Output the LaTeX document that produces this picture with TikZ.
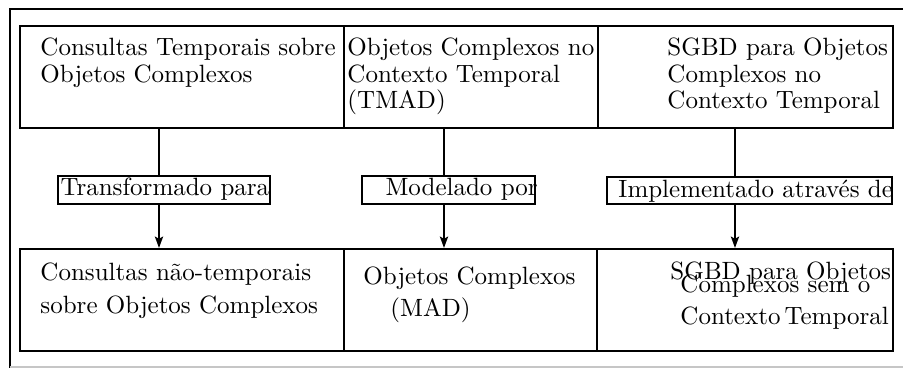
\documentclass[tikz,border=0pt]{standalone}
\usetikzlibrary{arrows.meta,fit}
\begin{document}
\begin{tikzpicture}[x=0.4pt,y=-0.4pt,
  box/.style={draw, line width=0.8pt, rectangle, inner sep=0pt},
  txt/.style={anchor=base west, inner sep=0pt, font=\normalsize},
  conn/.style={draw, line width=1pt},
  arr/.style={conn, -{Stealth[length=4.5pt,width=3.2pt,inset=0.8pt]}},
  frameline/.style={draw, line width=0.9pt}]
\useasboundingbox (0,0) rectangle (903,368);
\fill[white] (0,0) rectangle (903,368);
% outer frame
\draw[frameline] (903,9) -- (10,9) -- (10,368);
\draw[gray!45, line width=0.8pt] (10,366.5) -- (903,366.5);
% boxes
\node[box, fit={(20,26)(344,128)}] (b1) {};
\node[box, fit={(344,26)(598,128)}] (b2) {};
\node[box, fit={(598,26)(893,128)}] (b3) {};
\node[box, fit={(20,249)(344,351)}] (b4) {};
\node[box, fit={(344,249)(597,351)}] (b5) {};
\node[box, fit={(597,249)(893,351)}] (b6) {};
% label boxes
\node[box, fit={(58,176)(270,204)}] (l1) {};
\node[box, fit={(362,176)(535,204)}] (l2) {};
\node[box, fit={(607,177)(892,204)}] (l3) {};
% texts of boxes
\node[txt] (t1a) at (40,55) {Consultas Temporais sobre};
\node[txt] (t1b) at (40,82) {Objetos Complexos};
\begin{scope}
\clip (b2.south west) rectangle (b2.north east);
\node[txt] (t2a) at (347,55) {Objetos Complexos no};
\end{scope}
\node[txt] (t2b) at (347,82) {Contexto Temporal};
\node[txt] (t2c) at (347,108) {(TMAD)};
\node[txt] (t3a) at (667,55) {SGBD para Objetos};
\node[txt] (t3b) at (667,82) {Complexos no};
\node[txt] (t3c) at (667,108) {Contexto Temporal};
\node[txt] (t4a) at (40,280) {Consultas não-temporais};
\node[txt] (t4b) at (40,313) {sobre Objetos Complexos};
\node[txt] (t5a) at (363,284) {Objetos Complexos};
\node[txt] (t5b) at (390,316) {(MAD)};
\node[txt] (t6a) at (670,279) {SGBD para Objetos};
\node[txt] (t6b) at (680,292) {Complexos sem o};
\node[txt] (t6c) at (680,324) {Contexto\,Temporal};
% label texts
\node[txt] (tl1) at (60,195) {Transformado para};
\node[txt] (tl2) at (385,195) {Modelado por};
\begin{scope}
\clip (l3.south west) rectangle (l3.north east);
\node[txt] (tl3) at (618,197) {Implementado através de};
\end{scope}
% connectors
\coordinate (c1) at (159,0);
\coordinate (c2) at (444,0);
\coordinate (c3) at (735,0);
\draw[conn] (b1.south -| c1) -- (l1.north -| c1);
\draw[arr] (l1.south -| c1) -- (b4.north -| c1);
\draw[conn] (b2.south -| c2) -- (l2.north -| c2);
\draw[arr] (l2.south -| c2) -- (b5.north -| c2);
\draw[conn] (b3.south -| c3) -- (l3.north -| c3);
\draw[arr] (l3.south -| c3) -- (b6.north -| c3);
\end{tikzpicture}
\end{document}
